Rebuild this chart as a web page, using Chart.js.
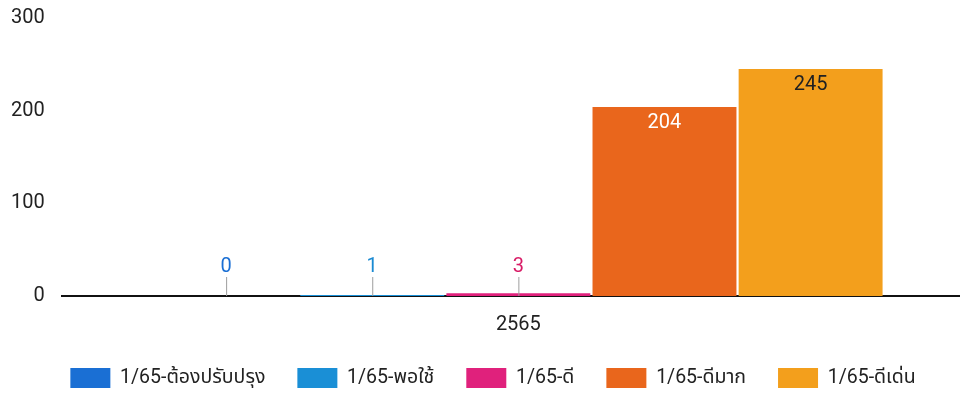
<!DOCTYPE html>
<html>
<head>
<meta charset="utf-8">
<script src="https://cdn.jsdelivr.net/npm/chart.js@4.4.1/dist/chart.umd.min.js"></script>
<style>
  html, body { margin: 0; padding: 0; background: #ffffff; }
  #wrap { width: 960px; height: 401px; overflow: hidden; position: relative; }
  #box { width: 975px; height: 401px; position: absolute; left: 0; top: 0; }
</style>
</head>
<body>
<div id="wrap"><div id="box"><canvas id="c"></canvas></div></div>
<script>
const categories = ['2565'];
const seriesNames = ['1/65-ต้องปรับปรุง', '1/65-พอใช้', '1/65-ดี', '1/65-ดีมาก', '1/65-ดีเด่น'];
const seriesValues = [[0], [1], [3], [204], [245]];
const seriesColors = ['#1a6fd4', '#1a8fd6', '#e0217c', '#e9661c', '#f39f1c'];
const labelColors = ['#1a6fd4', '#1a8ad2', '#d81b66', '#ffffff', '#222222'];
const yTicks = [0, 100, 200, 300];

const FONT = 'Roboto, "Noto Sans", "Noto Sans Thai", sans-serif';

const valueLabels = {
  id: 'valueLabels',
  afterDatasetsDraw(chart) {
    const ctx = chart.ctx;
    const yScale = chart.scales.y;
    const base = yScale.getPixelForValue(0);
    chart.data.datasets.forEach((ds, i) => {
      const meta = chart.getDatasetMeta(i);
      meta.data.forEach((bar, j) => {
        const v = ds.data[j];
        ctx.save();
        ctx.font = '20px ' + FONT;
        ctx.textAlign = 'center';
        ctx.textBaseline = 'middle';
        if (base - bar.y < 40) {
          ctx.strokeStyle = '#9e9e9e';
          ctx.lineWidth = 1;
          ctx.beginPath();
          ctx.moveTo(bar.x + 0.5, base);
          ctx.lineTo(bar.x + 0.5, base - 19);
          ctx.stroke();
          ctx.fillStyle = labelColors[i];
          ctx.fillText(String(v), bar.x, base - 29);
        } else {
          ctx.fillStyle = labelColors[i];
          ctx.fillText(String(v), bar.x, bar.y + 16);
        }
        ctx.restore();
      });
    });
  }
};

new Chart(document.getElementById('c'), {
  type: 'bar',
  data: {
    labels: categories,
    datasets: seriesNames.map((n, i) => ({
      label: n,
      data: seriesValues[i],
      backgroundColor: seriesColors[i],
      borderWidth: 0,
      categoryPercentage: 0.8,
      barPercentage: 0.985
    }))
  },
  options: {
    responsive: true,
    maintainAspectRatio: false,
    animation: false,
    layout: { padding: { top: 18, left: 11, right: 0, bottom: 3 } },
    plugins: {
      legend: {
        position: 'bottom',
        labels: {
          boxWidth: 40,
          boxHeight: 20,
          padding: 32,
          color: '#222',
          font: { family: FONT, size: 19.5 }
        }
      },
      tooltip: { enabled: false }
    },
    scales: {
      x: {
        grid: { display: false, drawTicks: false },
        border: { display: true, color: '#111', width: 2 },
        ticks: { color: '#222', font: { family: FONT, size: 20 }, padding: 17 },
        afterFit(s) { s.height -= s.options.ticks.padding + 1; }
      },
      y: {
        min: 0, max: 300,
        afterBuildTicks(axis) { axis.ticks = yTicks.map(v => ({ value: v })); },
        grid: { display: false, drawTicks: false },
        border: { display: false },
        ticks: { color: '#222', font: { family: FONT, size: 20 }, padding: 17 },
        afterFit(s) {
          s.width -= s.options.ticks.padding;
          s.paddingTop -= s.options.ticks.padding;
          s.paddingBottom -= s.options.ticks.padding;
        }
      }
    }
  },
  plugins: [valueLabels]
});
</script>
</body>
</html>
